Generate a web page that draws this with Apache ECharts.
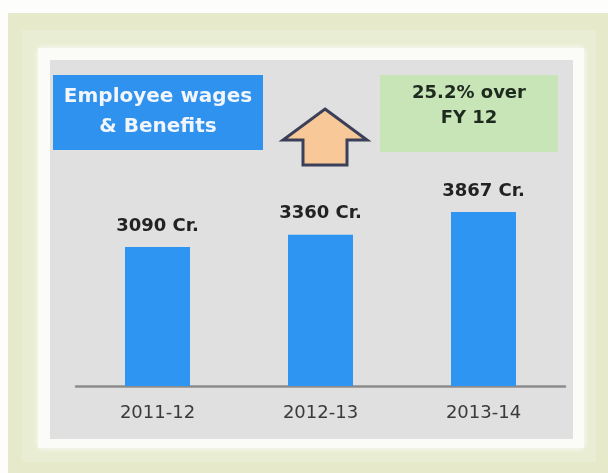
<!DOCTYPE html>
<html>
<head>
<meta charset="utf-8">
<script src="https://cdn.jsdelivr.net/npm/echarts@6/dist/echarts.min.js"></script>
<style>
  html, body { margin: 0; padding: 0; background: #fdfdfb; }
  #chart { width: 608px; height: 473px; }
</style>
</head>
<body>
<div id="chart"></div>
<script>
// Financial years on the x axis
const years = ['2011-12', '2012-13', '2013-14'];
// Employee wages & benefits, in crore
const wages = [3090, 3360, 3867];
const valueUnit = ' Cr.';
const titleLines = ['Employee wages', '& Benefits'];
const growthLines = ['25.2% over', 'FY 12'];

const chart = echarts.init(document.getElementById('chart'), null, { renderer: 'canvas' });

const FONT = '"DejaVu Sans", sans-serif';

chart.setOption({
  animation: false,
  backgroundColor: '#fdfdfb',
  grid: { left: 76, right: 43, top: 161, bottom: 87 },
  xAxis: {
    type: 'category',
    data: years,
    axisLine: { show: true, lineStyle: { color: '#8c8c8c', width: 2.5 } },
    axisTick: { show: false },
    axisLabel: { color: '#3a3a3a', fontSize: 18, fontFamily: FONT, margin: 18 }
  },
  yAxis: {
    type: 'value',
    min: 0,
    max: 5000,
    show: false,
    splitLine: { show: false }
  },
  graphic: [
    // outer pale green card
    { type: 'rect', z: -10, silent: true,
      shape: { x: 8, y: 13, width: 600, height: 460 },
      style: { fill: '#e6eacb' } },
    { type: 'rect', z: -9, silent: true,
      shape: { x: 22, y: 30, width: 574, height: 432 },
      style: { fill: '#e9edd3' } },
    // white frame
    { type: 'rect', z: -8, silent: true,
      shape: { x: 38, y: 48, width: 546, height: 400 },
      style: { fill: '#fbfbf8', shadowBlur: 6, shadowColor: 'rgba(255,255,255,0.9)' } },
    // grey plot panel
    { type: 'rect', z: -7, silent: true,
      shape: { x: 50, y: 60, width: 523, height: 379 },
      style: { fill: '#e0e0e0' } },
    // title box
    { type: 'rect', z: 5, silent: true,
      shape: { x: 53, y: 75, width: 210, height: 75 },
      style: { fill: '#2f92ef' } },
    { type: 'text', z: 6, silent: true,
      x: 158, y: 112,
      style: {
        text: titleLines.join('\n'),
        fill: '#f2f6fb',
        font: 'bold 20px "DejaVu Sans", sans-serif',
        lineHeight: 30,
        align: 'center',
        verticalAlign: 'middle'
      } },
    // growth box
    { type: 'rect', z: 5, silent: true,
      shape: { x: 380, y: 75, width: 178, height: 77 },
      style: { fill: '#c7e5b7' } },
    { type: 'text', z: 6, silent: true,
      x: 469, y: 106,
      style: {
        text: growthLines.join('\n'),
        fill: '#1f2a1f',
        font: 'bold 18px "DejaVu Sans", sans-serif',
        lineHeight: 25,
        align: 'center',
        verticalAlign: 'middle'
      } },
    // upward arrow
    { type: 'polygon', z: 5, silent: true,
      shape: { points: [[325, 109], [367, 140], [347, 140], [347, 165], [303, 165], [303, 140], [283, 140]] },
      style: { fill: '#f8c899', stroke: '#3b4058', lineWidth: 3, lineJoin: 'miter' } }
  ],
  series: [{
    type: 'bar',
    data: wages,
    barWidth: 65,
    itemStyle: { color: '#2e95f3' },
    label: {
      show: true,
      position: 'top',
      distance: 12,
      formatter: p => p.value + valueUnit,
      color: '#222222',
      fontSize: 18,
      fontWeight: 'bold',
      fontFamily: FONT
    }
  }]
});
</script>
</body>
</html>
